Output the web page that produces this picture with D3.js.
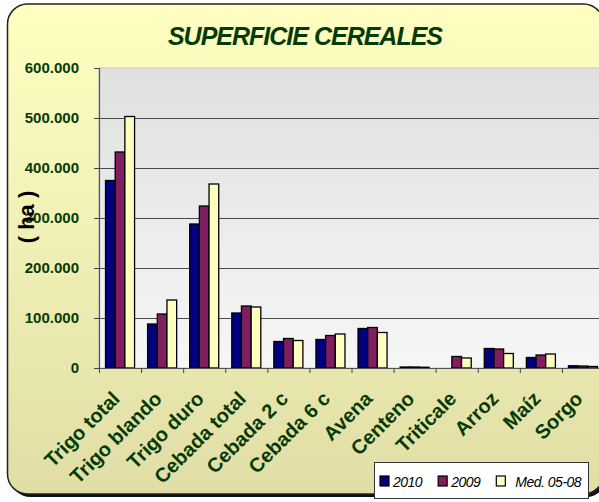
<!DOCTYPE html>
<html>
<head>
<meta charset="utf-8">
<script src="https://cdn.jsdelivr.net/npm/d3@7"></script>
<style>
  html, body { margin: 0; padding: 0; background: #fff; }
  svg { display: block; font-family: Arial, "Liberation Sans", sans-serif; }
</style>
</head>
<body>
<div id="chart"></div>
<script>
// superficie de cereales (ha)
const categories = ["Trigo total", "Trigo blando", "Trigo duro", "Cebada total", "Cebada 2 c", "Cebada 6 c",
  "Avena", "Centeno", "Triticale", "Arroz", "Maíz", "Sorgo"];
const seriesNames = ["2010", "2009", "Med. 05-08"];
const values2010 = [375000, 88000, 288000, 110000, 53000, 57000, 79000, 2000, 0, 39000, 21000, 4500];
const values2009 = [432000, 108000, 324000, 124000, 59000, 65000, 81000, 2000, 23000, 38000, 26000, 4000];
const valuesMed = [503000, 136000, 368000, 122000, 55000, 68000, 71000, 1500, 20000, 29000, 28000, 3000];
const yTicks = [0, 100000, 200000, 300000, 400000, 500000, 600000];

const colors = ["#000080", "#7f1f5f", "#ffffc0"];
const green = "#063a06";

const W = 599, H = 502;
const margin = { left: 99, top: 68, right: -5, bottom: 134 };
const plotW = W - margin.left - margin.right;
const plotH = H - margin.top - margin.bottom;

const svg = d3.select("#chart").append("svg")
  .attr("width", W)
  .attr("height", H);

const defs = svg.append("defs");
let bgGrad = defs.append("linearGradient").attr("id", "bgGrad")
  .attr("x1", 0).attr("y1", 0).attr("x2", 0).attr("y2", 1);
bgGrad.append("stop").attr("offset", "0%").attr("stop-color", "#ffffc2");
bgGrad.append("stop").attr("offset", "100%").attr("stop-color", "#e0dea6");

let plotGrad = defs.append("linearGradient").attr("id", "plotGrad")
  .attr("x1", 0).attr("y1", 0).attr("x2", 0).attr("y2", 1);
plotGrad.append("stop").attr("offset", "0%").attr("stop-color", "#e0e0e0");
plotGrad.append("stop").attr("offset", "100%").attr("stop-color", "#f6f6f6");

// chart frame with shadow
svg.append("rect")
  .attr("x", 10.5).attr("y", 7)
  .attr("width", 596).attr("height", 490)
  .attr("rx", 20).attr("ry", 20)
  .attr("fill", "#111");

svg.append("rect")
  .attr("x", 7.5).attr("y", 4)
  .attr("width", 596).attr("height", 490)
  .attr("rx", 20).attr("ry", 20)
  .attr("fill", "url(#bgGrad)")
  .attr("stroke", "#222")
  .attr("stroke-width", 1.5);

// title
svg.append("text")
  .attr("x", 305).attr("y", 45)
  .attr("text-anchor", "middle")
  .attr("font-size", 25)
  .attr("font-weight", "bold")
  .attr("font-style", "italic")
  .attr("letter-spacing", -1)
  .attr("fill", green)
  .text("SUPERFICIE CEREALES");

let x = d3.scaleBand()
  .domain(categories)
  .range([0, plotW])
  .paddingInner(0.31)
  .paddingOuter(0.155);

let xSub = d3.scaleBand()
  .domain(seriesNames)
  .range([0, x.bandwidth()]);

let y = d3.scaleLinear()
  .domain([0, 600000])
  .range([plotH, 0]);

let g = svg.append("g")
  .attr("transform", "translate(" + margin.left + "," + margin.top + ")");

g.append("rect")
  .attr("x", 0).attr("y", 0)
  .attr("width", plotW).attr("height", plotH)
  .attr("fill", "url(#plotGrad)")
  .attr("stroke", "#c4c4c4")
  .attr("stroke-width", 1);

// gridlines
g.append("g")
  .selectAll("line")
  .data(yTicks.filter(t => t > 0 && t < 600000))
  .enter().append("line")
  .attr("x1", 0).attr("x2", plotW)
  .attr("y1", d => Math.round(y(d)) + 0.5)
  .attr("y2", d => Math.round(y(d)) + 0.5)
  .attr("stroke", "#4a4a4a")
  .attr("stroke-width", 1);

// bars
let series = [values2010, values2009, valuesMed];
let groups = g.append("g").attr("class", "bars")
  .selectAll("g")
  .data(categories)
  .enter().append("g")
  .attr("transform", d => "translate(" + x(d) + ",0)");

groups.selectAll("rect")
  .data((d, i) => seriesNames.map((s, k) => ({ s: s, k: k, v: series[k][i] })).filter(o => o.v > 0))
  .enter().append("rect")
  .attr("x", d => xSub(d.s))
  .attr("y", d => y(d.v))
  .attr("width", xSub.bandwidth())
  .attr("height", d => plotH - y(d.v))
  .attr("fill", d => colors[d.k])
  .attr("stroke", "#000")
  .attr("stroke-width", 1.3);

// y axis
let yAxis = d3.axisLeft(y)
  .tickValues(yTicks)
  .tickSize(5)
  .tickPadding(15)
  .tickFormat(d => d === 0 ? "0" : d3.format(",")(d).replace(/,/g, "."));

let yAx = g.append("g").attr("class", "y axis").call(yAxis);
yAx.select(".domain").attr("stroke", "#555").attr("stroke-width", 1.2);
yAx.selectAll(".tick line").attr("stroke", "#444");
yAx.selectAll("text")
  .attr("font-size", 15)
  .attr("font-weight", "bold")
  .attr("fill", green)
  .attr("font-family", "Arial, 'Liberation Sans', sans-serif");

// x axis with ticks between categories
let xAxis = d3.axisBottom(x).tickSize(0).tickFormat("");
let xAx = g.append("g").attr("class", "x axis")
  .attr("transform", "translate(0," + plotH + ")")
  .call(xAxis);
xAx.select(".domain").attr("stroke", "#555").attr("stroke-width", 1.2);
xAx.append("g")
  .selectAll("line")
  .data(d3.range(categories.length + 1))
  .enter().append("line")
  .attr("x1", i => i * x.step() + 0.5)
  .attr("x2", i => i * x.step() + 0.5)
  .attr("y1", 0).attr("y2", 5)
  .attr("stroke", "#444");

// rotated category labels
xAx.selectAll(".catlabel")
  .data(categories)
  .enter().append("text")
  .attr("class", "catlabel")
  .attr("transform", d => "translate(" + (x(d) + x.bandwidth() / 2 + 1) + ",32) rotate(-45)")
  .attr("text-anchor", "end")
  .attr("font-size", 20)
  .attr("font-weight", "bold")
  .attr("fill", green)
  .text(d => d);

// y axis title
svg.append("text")
  .attr("transform", "translate(34,217) rotate(-90)")
  .attr("text-anchor", "middle")
  .attr("font-size", 22)
  .attr("font-weight", "bold")
  .attr("fill", "#000")
  .text("( ha )");

// legend
let legend = svg.append("g").attr("transform", "translate(374,462)");
legend.append("rect")
  .attr("x", 0.5).attr("y", 0.5)
  .attr("width", 214).attr("height", 36)
  .attr("fill", "#fff")
  .attr("stroke", "#333");

let lx = 6;
seriesNames.forEach((s, k) => {
  let item = legend.append("g").attr("transform", "translate(" + lx + ",0)");
  item.append("rect")
    .attr("x", 0).attr("y", 14)
    .attr("width", 9).attr("height", 10)
    .attr("fill", colors[k])
    .attr("stroke", "#000")
    .attr("stroke-width", 1.2);
  let t = item.append("text")
    .attr("x", k === 2 ? 19 : 13).attr("y", 24.5)
    .attr("font-size", 14)
    .attr("font-style", "italic")
    .attr("letter-spacing", -0.5)
    .attr("fill", "#000")
    .text(s);
  lx += (k === 2 ? 19 : 13) + t.node().getComputedTextLength() + 16;
});
</script>
</body>
</html>
